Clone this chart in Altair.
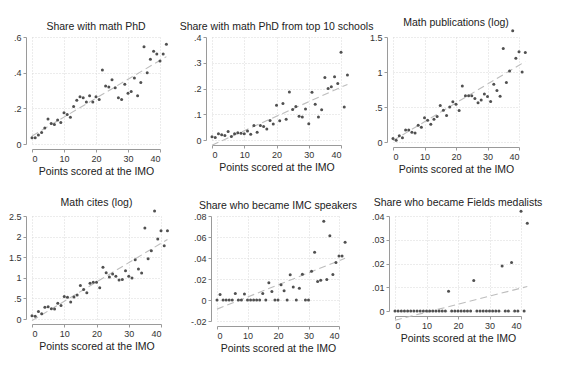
import altair as alt
import pandas as pd

# ---------------- data ----------------
points = list(range(43))

phd = [0.035, 0.035, 0.05, 0.065, 0.09, 0.14, 0.115, 0.11, 0.135, 0.12,
       0.175, 0.165, 0.15, 0.21, 0.245, 0.265, 0.26, 0.235, 0.27, 0.235,
       0.265, 0.25, 0.415, 0.325, 0.32, 0.36, 0.315, 0.26, 0.25, 0.335,
       0.285, 0.295, 0.37, 0.27, 0.345, 0.545, 0.40, 0.475, 0.52, 0.505,
       0.465, 0.505, 0.56]

top10 = [0.013, 0.01, 0.024, 0.02, 0.017, 0.033, 0.014, 0.024, 0.028, 0.026,
         0.024, 0.035, 0.022, 0.056, 0.03, 0.056, 0.052, 0.043, 0.076, 0.062,
         0.135, 0.075, 0.142, 0.081, 0.186, 0.118, 0.13, 0.092, 0.089, 0.12,
         0.063, 0.185, 0.139, 0.089, 0.117, 0.243, 0.2, 0.207, 0.246, 0.219,
         0.341, 0.128, 0.252]

pubs = [0.05, 0.025, 0.09, 0.06, 0.17, 0.17, 0.14, 0.13, 0.24, 0.21,
        0.345, 0.31, 0.255, 0.325, 0.365, 0.52, 0.455, 0.38, 0.5, 0.575,
        0.54, 0.45, 0.8, 0.66, 0.66, 0.66, 0.62, 0.56, 0.6, 0.685,
        0.65, 0.58, 0.825, 0.735, 0.655, 1.335, 0.85, 1.015, 1.59, 1.195,
        1.29, 1.0, 1.28]

cites = [0.08, 0.065, 0.18, 0.13, 0.285, 0.3, 0.25, 0.245, 0.38, 0.33,
         0.545, 0.53, 0.41, 0.535, 0.58, 0.815, 0.715, 0.635, 0.865, 0.89,
         0.89, 0.76, 1.255, 1.125, 1.02, 1.09, 1.04, 0.945, 0.96, 1.17,
         1.04, 0.995, 1.44, 1.215, 1.115, 2.21, 1.465, 1.655, 2.62, 1.94,
         2.14, 1.775, 2.14]

imc = [0, 0.0053, 0, 0, 0, 0, 0.0062, 0, 0, 0.0056,
       0, 0, 0, 0, 0, 0.0062, 0, 0.0165, 0.0081, 0,
       0, 0.0146, 0.0087, 0, 0.024, 0.0125, 0, 0.0112, 0.0246, 0,
       0, 0.0274, 0.0455, 0.0177, 0.0187, 0.075, 0.0196, 0.0613, 0.0243, 0.0358,
       0.042, 0.042, 0.055]

fields = [0, 0, 0, 0, 0, 0, 0, 0, 0, 0,
          0, 0, 0, 0, 0, 0, 0, 0.0083, 0, 0,
          0, 0, 0, 0, 0, 0.0128, 0, 0, 0, 0,
          0, 0, 0, 0, 0.019, 0, 0, 0.0204, 0, 0,
          0.042, 0, 0.037]

# fitted line ends (at 0 and 42 points)
fit_x = [0, 42]
fit_phd = [0.045, 0.49]
fit_top10 = [-0.02, 0.216]
fit_pubs = [0.02, 1.15]
fit_cites = [-0.04, 1.93]
fit_imc = [-0.0087, 0.0397]
fit_fields = [-0.0039, 0.0103]

titles = ["Share with math PhD", "Share with math PhD from top 10 schools",
          "Math publications (log)", "Math cites (log)",
          "Share who became IMC speakers", "Share who became Fields medalists"]

x_ticks = [0, 10, 20, 30, 40]
yt_phd = [0, 0.2, 0.4, 0.6]
yt_top10 = [0, 0.1, 0.2, 0.3, 0.4]
yt_pubs = [0, 0.5, 1, 1.5]
yt_cites = [0, 0.5, 1, 1.5, 2, 2.5]
yt_imc = [-0.02, 0, 0.02, 0.04, 0.06, 0.08]
yt_fields = [0, 0.01, 0.02, 0.03, 0.04]

FONT = "Liberation Sans"
LBL = ("datum.value == 0 ? '0' : (abs(datum.value) < 1 ? "
       "(datum.value < 0 ? '-' : '') + substring(format(abs(datum.value), ''), 1) "
       ": format(datum.value, ''))")


def panel(title, vals, fit, yticks, width, height):
    df = pd.DataFrame({"x": points, "y": vals})
    fdf = pd.DataFrame({"x": fit_x, "y": fit})
    xs = alt.Scale(domain=[0, 40], nice=False, zero=False)
    ys = alt.Scale(domain=[yticks[0], yticks[-1]], nice=False, zero=False)
    xa = alt.Axis(values=x_ticks, format="d", title="Points scored at the IMO",
                  offset=5, grid=True)
    ya = alt.Axis(values=yticks, labelExpr=LBL, title=None, offset=6, grid=True)
    line = alt.Chart(fdf).mark_line(color="#bdbdbd", strokeDash=[7, 4],
                                    strokeWidth=1.1).encode(
        x=alt.X("x:Q", scale=xs, axis=xa),
        y=alt.Y("y:Q", scale=ys, axis=ya))
    pts = alt.Chart(df).mark_circle(size=9, color="#505050", opacity=1).encode(
        x=alt.X("x:Q", scale=xs, axis=xa),
        y=alt.Y("y:Q", scale=ys, axis=ya))
    return alt.layer(line, pts).properties(
        width=width, height=height,
        title=alt.TitleParams(title, fontSize=10.5, font=FONT, fontWeight="normal",
                              color="#222", offset=1))


p1 = panel(titles[0], phd, fit_phd, yt_phd, 128, 107)
p2 = panel(titles[1], top10, fit_top10, yt_top10, 129, 103)
p3 = panel(titles[2], pubs, fit_pubs, yt_pubs, 126, 105)
p4 = panel(titles[3], cites, fit_cites, yt_cites, 129, 103)
p5 = panel(titles[4], imc, fit_imc, yt_imc, 122, 105)
p6 = panel(titles[5], fields, fit_fields, yt_fields, 126, 95)

row1 = alt.hconcat(p1, p2, p3, spacing=52, bounds="flush")
row2 = alt.hconcat(p4, p5, p6, spacing=56, bounds="flush")

chart = alt.vconcat(row1, row2, spacing=21).properties(
    padding={"left": 0, "top": 9, "right": 5, "bottom": 5},
    background="white"
).configure_view(stroke=None).configure_axis(
    labelFont=FONT, labelFontSize=9, labelColor="#333",
    titleFont=FONT, titleFontSize=10.5, titleColor="#222", titleFontWeight="normal",
    titlePadding=3, labelPadding=2,
    domainColor="#9a9a9a", tickColor="#9a9a9a", tickSize=3,
    gridColor="#d8d8d8", gridDash=[1, 2], gridWidth=1,
)

chart.save("out.html", embed_options={"renderer": "svg", "actions": False})
